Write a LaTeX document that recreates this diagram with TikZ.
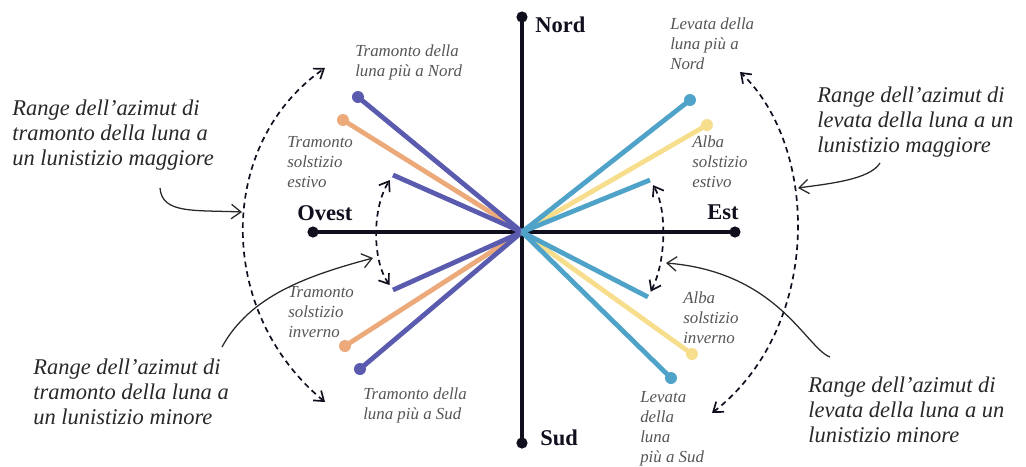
\documentclass[tikz,border=0pt]{standalone}
\usepackage{fontspec}
\setmainfont{Liberation Serif}
\usepackage{tikz}
\usetikzlibrary{arrows.meta, positioning, calc}
\definecolor{mydark}{RGB}{15,15,30}
\definecolor{mypurple}{RGB}{90,90,175}
\definecolor{myorange}{RGB}{236,170,122}
\definecolor{myblue}{RGB}{80,163,200}
\definecolor{myyellow}{RGB}{246,222,140}
\definecolor{mygray}{RGB}{85,85,85}
\definecolor{mytext}{RGB}{40,40,40}
\tikzset{
  axisline/.style={line width=2.6pt, color=mydark},
  ray/.style={line width=3.4pt},
  dirlbl/.style={font=\fontsize{16}{18}\selectfont\bfseries, color=mydark, inner sep=0pt, anchor=west},
  smalllbl/.style={font=\fontsize{12}{14.2}\selectfont\itshape, color=mygray,
    align=left, inner sep=0pt, anchor=west},
  biglbl/.style={font=\fontsize{16}{18}\selectfont\itshape, color=mytext,
    align=left, inner sep=0pt, anchor=west},
  rangearc/.style={{Straight Barb[length=2.2mm, width=3.2mm]}-{Straight Barb[length=2.2mm, width=3.2mm]},
    line width=1.2pt, dash pattern=on 4pt off 3pt, color=mydark},
  pointer/.style={-{Straight Barb[length=2.4mm, width=3.6mm]}, line width=0.9pt, color=mytext}
}

\begin{document}
\begin{tikzpicture}
  \useasboundingbox (-13.05,5.8) rectangle (12.6,-5.85);

  % Axes
  \coordinate (o) at (0,0);
  \coordinate (n) at (0,5.375);
  \coordinate (s) at (0,-5.275);
  \coordinate (w) at (-5.225,0);
  \coordinate (e) at (5.325,0);
  \draw[axisline] (n) -- (s);
  \draw[axisline] (w) -- (e);
  \foreach \p in {n,s,w,e} \fill[mydark] (\p) circle (0.14);

  \node[dirlbl] (nordlbl) at (0.325,5.175) {Nord};
  \node[dirlbl] (sudlbl) at (0.45,-5.15) {Sud};
  \node[dirlbl] (ovestlbl) at (-5.625,0.475) {Ovest};
  \node[dirlbl] (estlbl) at (4.625,0.5) {Est};

  % Moonset / sunset (west)
  \coordinate (tnord) at (-4.1,3.375);
  \coordinate (test) at (-4.475,2.8);
  \coordinate (tmaxn) at (-3.225,1.425);
  \coordinate (tmaxs) at (-3.225,-1.45);
  \coordinate (tinv) at (-4.425,-2.85);
  \coordinate (tsud) at (-4.05,-3.425);
  \draw[ray, myorange] (o) -- (test);
  \draw[ray, myorange] (o) -- (tinv);
  \draw[ray, mypurple] (o) -- (tnord);
  \draw[ray, mypurple] (o) -- (tmaxn);
  \draw[ray, mypurple] (o) -- (tmaxs);
  \draw[ray, mypurple] (o) -- (tsud);
  \fill[myorange] (test) circle (0.15);
  \fill[myorange] (tinv) circle (0.15);
  \fill[mypurple] (tnord) circle (0.15);
  \fill[mypurple] (tsud) circle (0.15);

  % Moonrise / sunrise (east)
  \coordinate (lnord) at (4.2,3.3);
  \coordinate (aest) at (4.625,2.675);
  \coordinate (lmaxn) at (3.2,1.3);
  \coordinate (lmaxs) at (3.15,-1.625);
  \coordinate (ainv) at (4.25,-3.05);
  \coordinate (lsud) at (3.725,-3.65);
  \draw[ray, myyellow] (o) -- (aest);
  \draw[ray, myyellow] (o) -- (ainv);
  \draw[ray, myblue] (o) -- (lnord);
  \draw[ray, myblue] (o) -- (lmaxn);
  \draw[ray, myblue] (o) -- (lmaxs);
  \draw[ray, myblue] (o) -- (lsud);
  \fill[myyellow] (aest) circle (0.15);
  \fill[myyellow] (ainv) circle (0.15);
  \fill[myblue] (lnord) circle (0.15);
  \fill[myblue] (lsud) circle (0.15);

  % Small labels
  \node[smalllbl] (tnordlbl) at (-4.175,4.25) {Tramonto della\\luna più a Nord};
  \node[smalllbl] (testlbl) at (-5.875,1.75) {Tramonto\\solstizio\\estivo};
  \node[smalllbl] (tinvlbl) at (-5.85,-2.0) {Tramonto\\solstizio\\inverno};
  \node[smalllbl] (tsudlbl) at (-3.975,-4.325) {Tramonto della\\luna più a Sud};
  \node[smalllbl] (lnordlbl) at (3.7,4.7) {Levata della\\luna più a\\Nord};
  \node[smalllbl] (aestlbl) at (4.25,1.75) {Alba\\solstizio\\estivo};
  \node[smalllbl] (ainvlbl) at (4.025,-2.15) {Alba\\solstizio\\inverno};
  \node[smalllbl] (lsudlbl) at (2.95,-4.925) {Levata\\della\\luna\\più a Sud};

  % Range arcs
  \coordinate (wtop) at (-4.925,4.1);
  \coordinate (wbot) at (-4.925,-4.25);
  \coordinate (etop) at (5.45,4.0);
  \coordinate (ebot) at (4.75,-4.525);
  \draw[rangearc] (wbot) .. controls (-7.65,-2.0) and (-7.65,2.2) .. (wtop);
  \draw[rangearc, shorten <=1.5mm, shorten >=1.5mm] (tmaxs) .. controls (-3.75,-0.7) and (-3.75,0.6) .. (tmaxn);
  \draw[rangearc] (ebot) .. controls (7.5,-2.4) and (7.45,2.1) .. (etop);
  \draw[rangearc, shorten <=1.5mm, shorten >=1.5mm] (lmaxs) .. controls (3.62,-0.7) and (3.62,0.6) .. (lmaxn);

  % Big labels and pointers
  \node[biglbl] (tmaglbl) at (-12.75,2.425) {Range dell'azimut di\\tramonto della luna a\\un lunistizio maggiore};
  \node[biglbl] (lmaglbl) at (7.375,2.75) {Range dell'azimut di\\levata della luna a un\\lunistizio maggiore};
  \node[biglbl] (tminlbl) at (-12.225,-4.0) {Range dell'azimut di\\tramonto della luna a\\un lunistizio minore};
  \node[biglbl] (lminlbl) at (7.15,-4.45) {Range dell'azimut di\\levata della luna a un\\lunistizio minore};

  \coordinate (tmagp) at (-9.05,1.1);
  \coordinate (tmagq) at (-7.0,0.5);
  \coordinate (lmagp) at (8.95,1.725);
  \coordinate (lmagq) at (6.9,1.1);
  \coordinate (tminp) at (-7.5,-2.875);
  \coordinate (tminq) at (-3.725,-0.65);
  \coordinate (lminp) at (7.7,-3.125);
  \coordinate (lminq) at (3.6,-0.775);
  \draw[pointer] (tmagp) .. controls (-9.0,0.45) and (-8.2,0.55) .. (tmagq);
  \draw[pointer] (lmagp) .. controls (8.7,1.3) and (7.6,1.2) .. (lmagq);
  \draw[pointer] (tminp) .. controls (-6.8,-1.6) and (-5.4,-1.1) .. (tminq);
  \draw[pointer] (lminp) .. controls (7.1,-2.9) and (6.4,-1.0) .. (lminq);
\end{tikzpicture}
\end{document}
